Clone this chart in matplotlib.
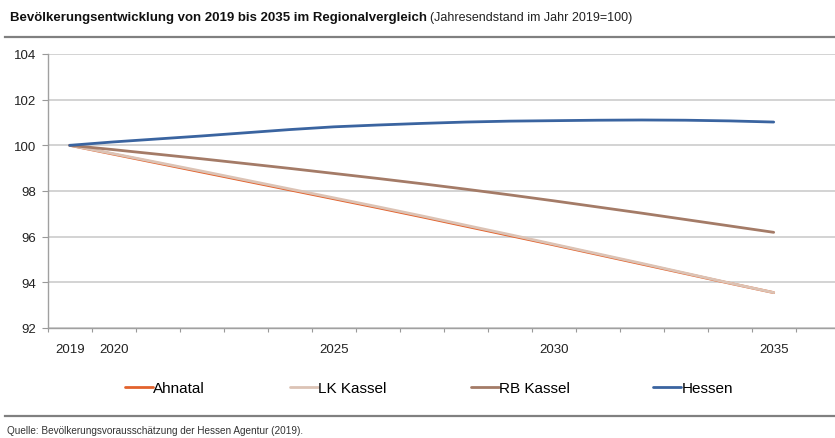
import matplotlib
matplotlib.use('Agg')
import matplotlib.pyplot as plt
from matplotlib import font_manager
from matplotlib.lines import Line2D

# font: narrow sans if present
names = {f.name for f in font_manager.fontManager.ttflist}
narrow = 'Liberation Sans Narrow' if 'Liberation Sans Narrow' in names else 'Liberation Sans'
plt.rcParams['font.family'] = [narrow, 'DejaVu Sans']

years = list(range(2019, 2036))
tick_years = [2019, 2020, 2025, 2030, 2035]

ahnatal = [100, 99.61, 99.22, 98.83, 98.44, 98.05, 97.66, 97.27, 96.87, 96.46,
           96.05, 95.64, 95.22, 94.8, 94.38, 93.96, 93.55]
lk_kassel = [100, 99.63, 99.25, 98.87, 98.48, 98.09, 97.7, 97.31, 96.91, 96.5,
             96.09, 95.67, 95.25, 94.83, 94.4, 93.97, 93.55]
rb_kassel = [100, 99.81, 99.61, 99.41, 99.2, 98.99, 98.77, 98.55, 98.32, 98.08,
             97.83, 97.57, 97.3, 97.03, 96.75, 96.47, 96.19]
hessen = [100, 100.15, 100.28, 100.41, 100.55, 100.69, 100.81, 100.89, 100.96, 101.02,
          101.06, 101.08, 101.1, 101.11, 101.1, 101.07, 101.02]

series = [('Ahnatal', ahnatal, '#E2622D'),
          ('LK Kassel', lk_kassel, '#DCC3B5'),
          ('RB Kassel', rb_kassel, '#A47B67'),
          ('Hessen', hessen, '#3A64A0')]

W, H = 835, 439
fig = plt.figure(figsize=(W / 100, H / 100), dpi=100)
ax = fig.add_axes([47.7 / W, 1 - 329 / H, (W - 47.7) / W, (329 - 55) / H])

lines = []
for name, vals, col in series:
    ln, = ax.plot(years, vals, color=col, lw=2.0, solid_capstyle='round')
    lines.append(ln)

ax.set_xlim(2018.5, 2018.5 + (W - 47.7) / 44)
ax.set_ylim(92, 104)
ax.set_yticks(range(92, 105, 2))
ax.set_xticks(tick_years)
ax.set_xticks([y - 0.5 for y in years] + [2035.5], minor=True)
ax.tick_params(axis='x', which='major', length=0, pad=11, labelsize=9.5, labelcolor='#222222')
ax.tick_params(axis='x', which='minor', length=3, direction='out', color='#999999', width=0.8)
ax.tick_params(axis='y', length=4, direction='out', color='#999999', width=0.8,
               labelsize=9.5, labelcolor='#222222', pad=4)
ax.grid(axis='y', color='#cccccc', lw=1.2)
ax.set_axisbelow(True)
for s in ['top', 'right']:
    ax.spines[s].set_visible(False)
for s in ['left', 'bottom']:
    ax.spines[s].set_color('#a0a0a0')
    ax.spines[s].set_linewidth(1.0)

# title, bold part + normal part
t1 = fig.text(10 / W, 1 - 18 / H, 'Bevölkerungsentwicklung von 2019 bis 2035 im Regionalvergleich',
              fontsize=9.5, fontweight='bold', va='center', ha='left', color='#111111')
fig.canvas.draw()
bb = t1.get_window_extent(fig.canvas.get_renderer())
fig.text(bb.x1 / W + 3 / W, 1 - 18 / H, '(Jahresendstand im Jahr 2019=100)',
         fontsize=9, va='center', ha='left', color='#222222')

# separator lines
fig.add_artist(Line2D([5 / W, 1], [1 - 38 / H, 1 - 38 / H], color='#808080', lw=1.6))
fig.add_artist(Line2D([5 / W, 1], [1 - 417 / H, 1 - 417 / H], color='#808080', lw=1.6))

# legend entries
leg_x = [125, 290, 471, 653]
for ln, (name, vals, col), x in zip(lines, series, leg_x):
    fig.legend([ln], [name], loc='center left', bbox_to_anchor=(x / W, 1 - 389 / H),
               frameon=False, fontsize=11, handlelength=1.8, handletextpad=0.05,
               borderaxespad=0, borderpad=0)

fig.text(7 / W, 1 - 431 / H, 'Quelle: Bevölkerungsvorausschätzung der Hessen Agentur (2019).',
         fontsize=7.2, va='center', ha='left', color='#333333')

fig.savefig('out.png', dpi=100)
